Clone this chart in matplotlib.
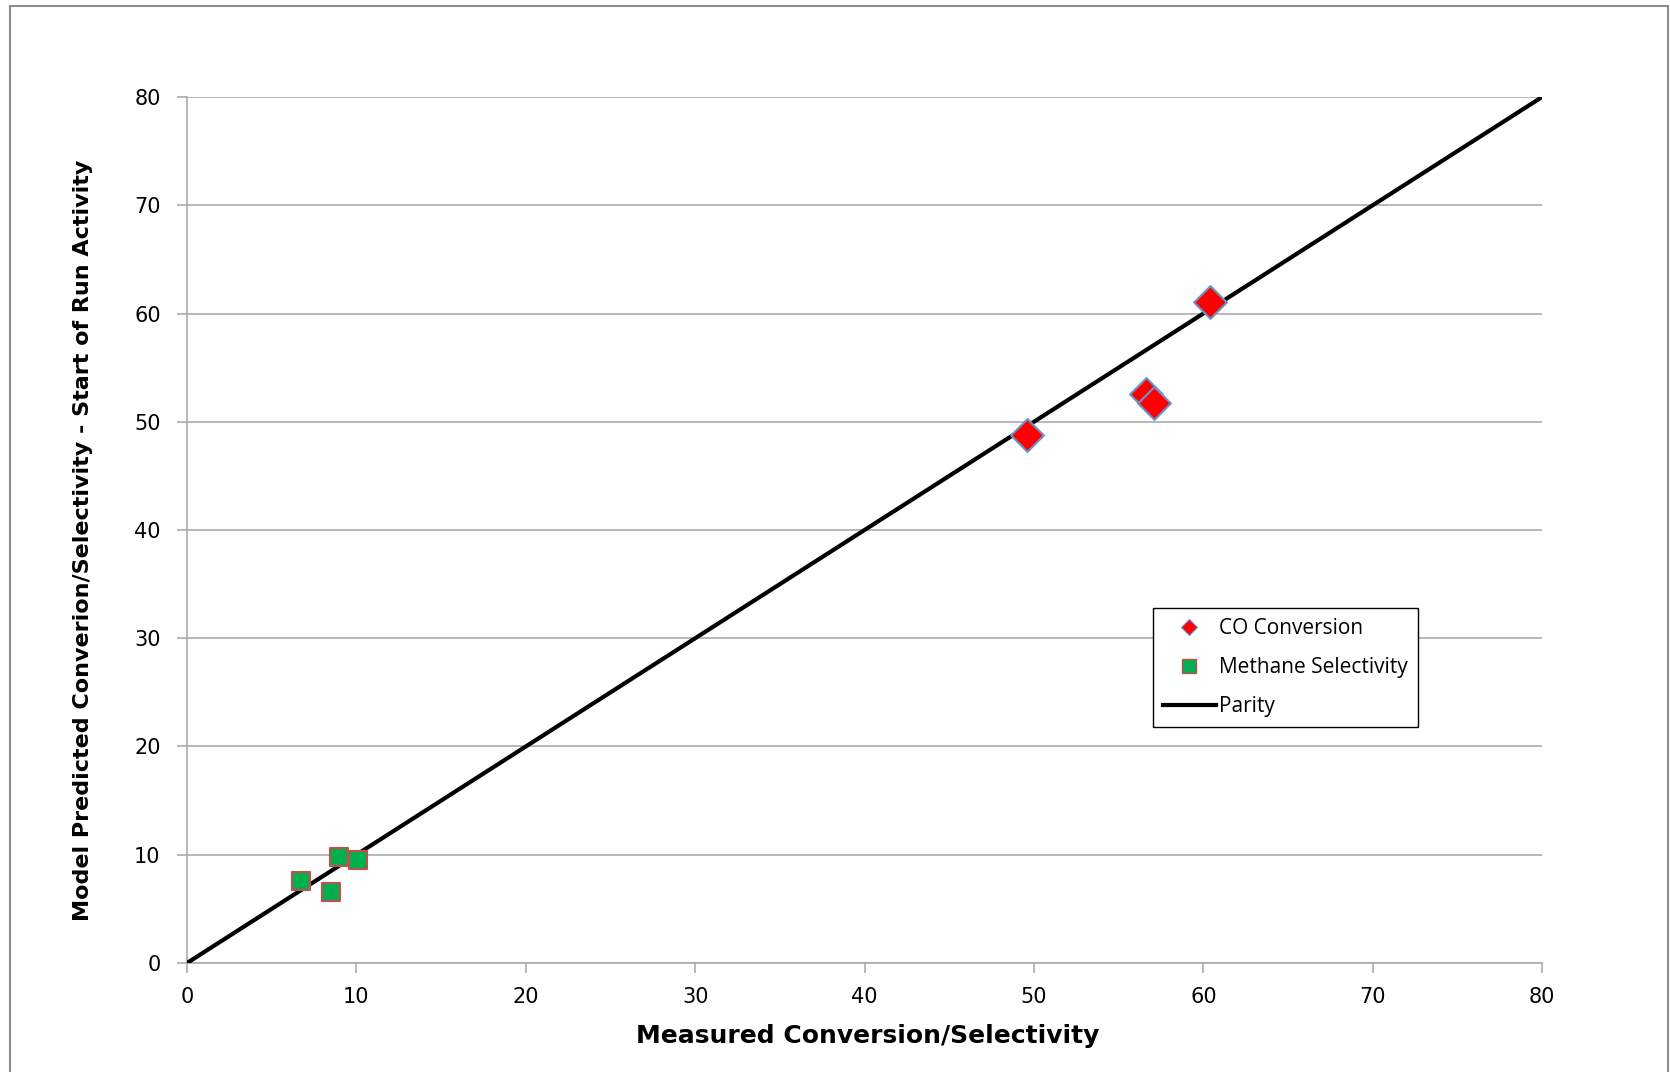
import numpy as np
import matplotlib
matplotlib.use("Agg")
import matplotlib.pyplot as plt
from matplotlib.patches import Rectangle
from matplotlib.lines import Line2D

# measured vs. model predicted values
co_measured = [49.6, 60.4, 56.6, 57.1]
co_predicted = [48.8, 61.1, 52.6, 51.7]
ch4_measured = [6.75, 8.95, 10.1, 8.5]
ch4_predicted = [7.6, 9.8, 9.5, 6.6]
parity = [0, 80]
ticks = [0, 10, 20, 30, 40, 50, 60, 70, 80]

fig = plt.figure(figsize=(16.7, 10.72), dpi=100)
fig.patches.append(Rectangle((10/1670, -0.01), 1658/1670, 1 - 6/1072 + 0.01,
                             transform=fig.transFigure, fill=False,
                             edgecolor='#8c8c8c', linewidth=1.5))

ax = fig.add_axes([0.112, 0.1017, 0.8114, 0.8078])

ax.plot(parity, parity, color='black', linewidth=3, zorder=3, label='Parity')
ax.scatter(co_measured, co_predicted, marker='D', s=280, facecolor='#ff0000',
           edgecolor='#6a95cc', linewidth=1.5, zorder=4)
ax.scatter(ch4_measured, ch4_predicted, marker='s', s=175, facecolor='#00b050',
           edgecolor='#c0504d', linewidth=1.5, zorder=4)

ax.set_xlim(0, 80)
ax.set_ylim(0, 80)
ax.set_xticks(ticks)
ax.set_yticks(ticks)
ax.grid(axis='y', color='#ababab', linewidth=1.2)
ax.set_axisbelow(True)
for s in ['top', 'right']:
    ax.spines[s].set_visible(False)
for s in ['left', 'bottom']:
    ax.spines[s].set_color('#ababab')
    ax.spines[s].set_linewidth(1.2)
ax.tick_params(colors='#ababab', labelcolor='black', labelsize=15, length=7, width=1.2)
ax.tick_params(axis='y', pad=12)
ax.tick_params(axis='x', pad=10)

ax.set_xlabel('Measured Conversion/Selectivity', fontsize=18, fontweight='bold',
              va='center')
ax.set_ylabel('Model Predicted Converion/Selectivity - Start of Run Activity',
              fontsize=16, fontweight='bold', va='center')
ax.xaxis.set_label_coords(0.502, -0.084)
ax.yaxis.set_label_coords(-0.077, 0.488)

handles = [
    Line2D([], [], linestyle='none', marker='D', markersize=8, markerfacecolor='#ff0000',
           markeredgecolor='#6a95cc', markeredgewidth=0.8),
    Line2D([], [], linestyle='none', marker='s', markersize=10, markerfacecolor='#00b050',
           markeredgecolor='#c0504d', markeredgewidth=1),
    Line2D([], [], color='black', linewidth=3),
]
leg = ax.legend(handles, ['CO Conversion', 'Methane Selectivity', 'Parity'],
                loc='upper left', bbox_to_anchor=(1153/1670, 1 - 608/1072),
                bbox_transform=fig.transFigure, borderaxespad=0, frameon=True,
                fancybox=False, edgecolor='black', framealpha=1,
                handlelength=2.5, handletextpad=0.15, labelspacing=0.85,
                borderpad=0.5, prop={'family': 'Open Sans', 'size': 15})
leg.get_frame().set_linewidth(1)

fig.savefig('out.png', dpi=100)
